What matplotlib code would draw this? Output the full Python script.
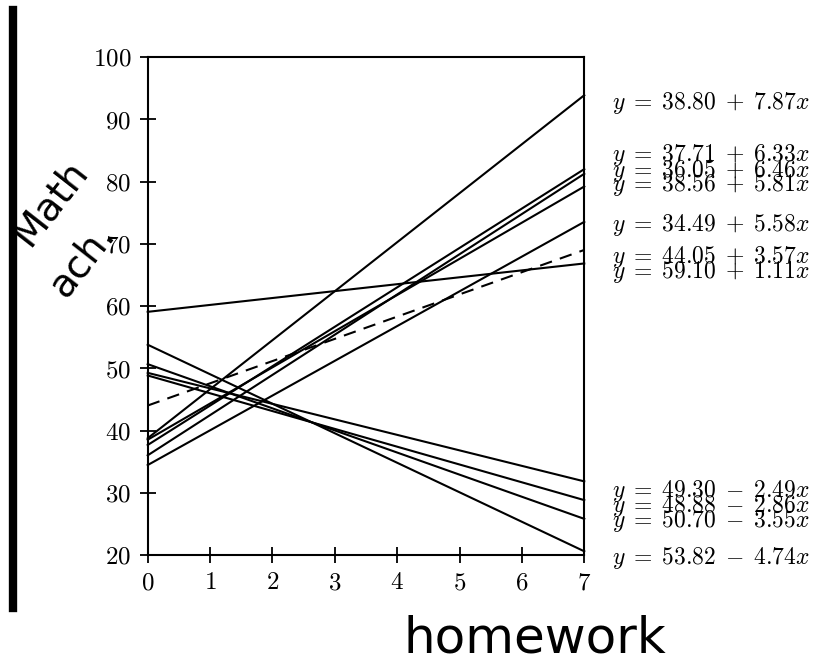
#!/usr/bin/env python
"""
Fitted regression lines of math achievement on homework, one per school.
"""

import matplotlib
matplotlib.use('Agg')
import matplotlib.pyplot as plt
from matplotlib.lines import Line2D
import numpy as np

# intercepts / slopes
intercepts = [38.80, 37.71, 36.05, 38.56, 34.49, 44.05, 59.10, 49.30, 48.88, 50.70, 53.82]
slopes = [7.87, 6.33, 6.46, 5.81, 5.58, 3.57, 1.11, -2.49, -2.86, -3.55, -4.74]
styles = ['-', '-', '-', '-', '-', '--', '-', '-', '-', '-', '-']
# vertical position (data units) of each equation label
label_y = [92.6, 84.3, 81.8, 79.4, 73.0, 67.9, 65.5, 30.4, 27.9, 25.5, 19.5]

x_ticks = [0, 1, 2, 3, 4, 5, 6, 7]
y_ticks = [20, 30, 40, 50, 60, 70, 80, 90, 100]

plt.rcParams['font.family'] = 'serif'
plt.rcParams['font.serif'] = ['cmr10', 'DejaVu Serif']
plt.rcParams['mathtext.fontset'] = 'cm'
plt.rcParams['axes.formatter.use_mathtext'] = True

fig = plt.figure(figsize=(8.16, 6.65), dpi=100)
ax = fig.add_axes([0.181, 0.165, 0.535, 0.749])

xs = np.array([0, 7])
for a, b, ls, ly in zip(intercepts, slopes, styles, label_y):
    ax.plot(xs, a + b * xs, color='black', linestyle=ls, linewidth=1.5,
            dashes=(6, 4) if ls == '--' else (None, None), clip_on=False)
    sign = '+' if b >= 0 else '-'
    ax.text(7.45, ly, rf'$y\;=\;{a:.2f}\;{sign}\;{abs(b):.2f}x$', fontsize=17,
            va='center', ha='left')

ax.set_xlim(0, 7)
ax.set_ylim(20, 100)
ax.set_xticks(x_ticks)
ax.set_yticks(y_ticks)
ax.tick_params(direction='inout', length=12, width=1.3, labelsize=18, pad=6)
for sp in ax.spines.values():
    sp.set_linewidth(1.5)

# handwritten axis labels
fig.text(0.061, 0.695, 'Math', fontsize=28, rotation=52, family='DejaVu Sans',
         ha='center', va='center')
fig.text(0.1, 0.61, 'ach.', fontsize=28, rotation=52, family='DejaVu Sans',
         ha='center', va='center')
fig.text(0.656, 0.04, 'homework', fontsize=36, family='DejaVu Sans',
         ha='center', va='center')

# dark scan edge on the left
fig.add_artist(Line2D([0.016, 0.016], [0.085, 0.985], color='black', linewidth=6,
                      transform=fig.transFigure))

fig.savefig('out.png', dpi=100)
plt.close(fig)
